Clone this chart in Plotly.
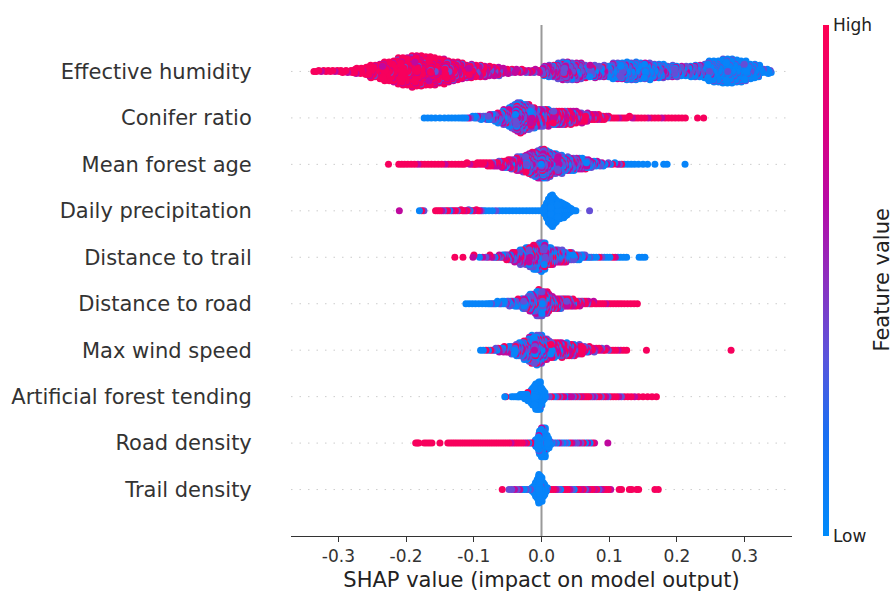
import numpy as np
import plotly.graph_objects as go

# ---------------- data ----------------
# features from top to bottom
features = ["Effective humidity", "Conifer ratio", "Mean forest age", "Daily precipitation",
            "Distance to trail", "Distance to road", "Max wind speed",
            "Artificial forest tending", "Road density", "Trail density"]

# feature-value level of each colour class: low (blue), low-mid (violet), high-mid (magenta), high (red)
FEATURE_LEVELS = [0.05, 0.38, 0.68, 0.95]

# each entry: (shap_from, shap_to, n_low, n_lowmid, n_highmid, n_high)
effective_humidity = [
    (-0.338, -0.32, 0, 0, 1, 4), (-0.32, -0.30, 0, 0, 1, 5), (-0.30, -0.28, 0, 0, 1, 7),
    (-0.28, -0.26, 0, 0, 2, 16), (-0.26, -0.24, 0, 1, 4, 33), (-0.24, -0.22, 0, 1, 6, 49),
    (-0.22, -0.20, 0, 2, 8, 68), (-0.20, -0.18, 0, 4, 18, 68), (-0.18, -0.16, 0, 4, 17, 63),
    (-0.16, -0.14, 0, 4, 16, 52), (-0.14, -0.12, 0, 8, 19, 27), (-0.12, -0.10, 0, 6, 14, 20),
    (-0.10, -0.08, 0, 5, 12, 17), (-0.08, -0.06, 0, 5, 13, 8), (-0.06, -0.04, 0, 3, 7, 4),
    (-0.04, -0.02, 0, 2, 5, 3), (-0.02, 0.00, 0, 2, 6, 2), (0.00, 0.02, 3, 16, 13, 4),
    (0.02, 0.04, 5, 24, 18, 5), (0.04, 0.06, 8, 24, 15, 3), (0.06, 0.08, 10, 16, 8, 2),
    (0.08, 0.10, 12, 15, 6, 1), (0.10, 0.12, 25, 17, 6, 0), (0.12, 0.14, 29, 18, 5, 0),
    (0.14, 0.16, 27, 17, 4, 0), (0.16, 0.18, 24, 14, 4, 0), (0.18, 0.20, 14, 14, 6, 0),
    (0.20, 0.22, 12, 13, 5, 0), (0.22, 0.24, 16, 15, 5, 0), (0.24, 0.26, 45, 14, 1, 0),
    (0.26, 0.28, 58, 14, 0, 0), (0.28, 0.30, 52, 12, 0, 0), (0.30, 0.32, 36, 8, 0, 0),
    (0.32, 0.34, 12, 2, 0, 0),
]

conifer_ratio = [
    (-0.176, -0.16, 3, 0, 0, 0), (-0.16, -0.14, 3, 0, 0, 0), (-0.14, -0.12, 4, 0, 0, 0),
    (-0.12, -0.10, 4, 1, 1, 0), (-0.10, -0.08, 6, 4, 2, 0), (-0.08, -0.07, 4, 4, 2, 0),
    (-0.07, -0.06, 5, 6, 4, 1), (-0.06, -0.05, 6, 8, 6, 2), (-0.05, -0.04, 9, 13, 10, 3),
    (-0.04, -0.03, 11, 17, 13, 4), (-0.03, -0.02, 9, 15, 12, 4), (-0.02, -0.01, 7, 11, 10, 4),
    (-0.01, 0.00, 5, 8, 8, 5), (0.00, 0.01, 3, 7, 9, 7), (0.01, 0.02, 2, 6, 8, 6),
    (0.02, 0.03, 1, 5, 8, 8), (0.03, 0.04, 1, 4, 7, 9), (0.04, 0.05, 1, 3, 7, 9),
    (0.05, 0.06, 0, 3, 5, 8), (0.06, 0.07, 0, 2, 4, 7), (0.07, 0.08, 0, 1, 3, 6),
    (0.08, 0.09, 0, 1, 2, 5), (0.09, 0.10, 0, 1, 1, 4), (0.10, 0.12, 0, 0, 1, 4),
    (0.12, 0.14, 0, 0, 1, 4), (0.14, 0.16, 0, 0, 1, 3), (0.16, 0.18, 0, 0, 1, 3),
    (0.18, 0.20, 0, 0, 0, 4), (0.20, 0.215, 0, 0, 0, 3), (0.226, 0.244, 0, 0, 0, 2),
]

mean_forest_age = [
    (-0.226, -0.226, 0, 0, 0, 1), (-0.213, -0.20, 0, 0, 0, 3), (-0.20, -0.18, 0, 0, 1, 3),
    (-0.18, -0.16, 0, 0, 0, 4), (-0.16, -0.14, 0, 0, 1, 3), (-0.14, -0.12, 0, 0, 0, 4),
    (-0.12, -0.10, 0, 0, 1, 4), (-0.10, -0.08, 0, 0, 2, 7), (-0.08, -0.07, 0, 1, 2, 4),
    (-0.07, -0.06, 0, 1, 3, 5), (-0.06, -0.05, 1, 2, 4, 5), (-0.05, -0.04, 1, 3, 6, 6),
    (-0.04, -0.03, 3, 6, 8, 5), (-0.03, -0.02, 5, 9, 10, 4), (-0.02, -0.01, 7, 13, 12, 4),
    (-0.01, 0.00, 9, 17, 15, 4), (0.00, 0.01, 10, 17, 14, 4), (0.01, 0.02, 8, 12, 10, 3),
    (0.02, 0.03, 7, 10, 9, 2), (0.03, 0.04, 6, 8, 7, 1), (0.04, 0.05, 5, 8, 6, 1),
    (0.05, 0.06, 5, 7, 6, 1), (0.06, 0.07, 5, 5, 4, 1), (0.07, 0.08, 4, 3, 3, 0),
    (0.08, 0.09, 3, 2, 2, 0), (0.09, 0.10, 2, 1, 1, 0), (0.10, 0.12, 2, 1, 1, 2),
    (0.12, 0.14, 4, 0, 0, 0), (0.14, 0.16, 3, 0, 0, 0), (0.165, 0.17, 1, 0, 0, 0),
    (0.178, 0.188, 2, 0, 0, 0), (0.212, 0.212, 1, 0, 0, 0),
]

daily_precipitation = [
    (-0.21, -0.21, 0, 0, 1, 0), (-0.182, -0.172, 1, 1, 0, 1), (-0.158, -0.14, 0, 1, 1, 4),
    (-0.14, -0.12, 1, 1, 1, 4), (-0.12, -0.10, 1, 1, 2, 5), (-0.10, -0.085, 1, 1, 1, 3),
    (-0.085, -0.06, 4, 1, 0, 0), (-0.06, -0.04, 4, 0, 0, 0), (-0.04, -0.02, 4, 0, 0, 0),
    (-0.02, 0.003, 5, 0, 0, 0), (0.003, 0.007, 17, 0, 0, 0), (0.007, 0.012, 45, 0, 0, 0),
    (0.012, 0.017, 60, 0, 0, 0), (0.017, 0.022, 41, 0, 0, 0), (0.022, 0.027, 33, 0, 0, 0),
    (0.027, 0.033, 33, 0, 0, 0), (0.033, 0.038, 21, 0, 0, 0), (0.038, 0.043, 10, 0, 0, 0),
    (0.043, 0.052, 4, 0, 0, 0), (0.071, 0.071, 0, 1, 0, 0),
]

distance_to_trail = [
    (-0.128, -0.128, 0, 0, 0, 1), (-0.116, -0.116, 0, 0, 0, 1), (-0.102, -0.099, 0, 0, 1, 1),
    (-0.094, -0.08, 1, 1, 1, 0), (-0.08, -0.065, 1, 1, 2, 2), (-0.065, -0.055, 1, 2, 2, 1),
    (-0.055, -0.045, 2, 3, 3, 2), (-0.045, -0.035, 3, 5, 5, 3), (-0.035, -0.025, 5, 7, 6, 4),
    (-0.025, -0.015, 8, 10, 7, 5), (-0.015, -0.005, 11, 13, 8, 7), (-0.005, 0.005, 14, 15, 9, 7),
    (0.005, 0.015, 9, 9, 5, 5), (0.015, 0.025, 8, 7, 4, 3), (0.025, 0.035, 7, 6, 3, 3),
    (0.035, 0.045, 5, 4, 2, 2), (0.045, 0.055, 5, 3, 1, 1), (0.055, 0.065, 4, 2, 1, 0),
    (0.065, 0.075, 3, 1, 0, 0), (0.075, 0.095, 3, 1, 0, 1), (0.095, 0.115, 3, 0, 1, 1),
    (0.115, 0.128, 3, 0, 0, 0), (0.142, 0.155, 3, 0, 0, 0),
]

distance_to_road = [
    (-0.114, -0.10, 3, 0, 0, 0), (-0.10, -0.08, 4, 0, 0, 0), (-0.08, -0.07, 3, 1, 0, 0),
    (-0.07, -0.06, 4, 1, 0, 0), (-0.06, -0.05, 4, 2, 1, 0), (-0.05, -0.04, 5, 3, 1, 0),
    (-0.04, -0.03, 6, 5, 2, 1), (-0.03, -0.02, 7, 7, 4, 2), (-0.02, -0.01, 9, 11, 6, 4),
    (-0.01, 0.00, 12, 15, 10, 8), (0.00, 0.01, 9, 12, 10, 7), (0.01, 0.02, 4, 6, 6, 6),
    (0.02, 0.03, 2, 5, 6, 6), (0.03, 0.04, 1, 4, 5, 6), (0.04, 0.05, 1, 3, 4, 5),
    (0.05, 0.06, 0, 2, 3, 5), (0.06, 0.07, 0, 1, 2, 4), (0.07, 0.08, 0, 0, 1, 4),
    (0.08, 0.10, 0, 0, 1, 5), (0.10, 0.12, 0, 0, 0, 5), (0.12, 0.144, 0, 0, 0, 5),
]

max_wind_speed = [
    (-0.092, -0.08, 2, 0, 0, 1), (-0.08, -0.07, 1, 1, 0, 1), (-0.07, -0.06, 2, 2, 1, 1),
    (-0.06, -0.05, 3, 3, 2, 1), (-0.05, -0.04, 4, 4, 3, 2), (-0.04, -0.03, 7, 7, 3, 3),
    (-0.03, -0.02, 11, 10, 5, 4), (-0.02, -0.01, 15, 15, 6, 6), (-0.01, 0.00, 16, 16, 7, 6),
    (0.00, 0.01, 9, 10, 6, 7), (0.01, 0.02, 5, 6, 6, 7), (0.02, 0.03, 4, 5, 6, 7),
    (0.03, 0.04, 3, 5, 5, 8), (0.04, 0.05, 2, 4, 5, 7), (0.05, 0.06, 1, 3, 4, 6),
    (0.06, 0.07, 1, 2, 3, 4), (0.07, 0.08, 0, 1, 2, 4), (0.08, 0.09, 0, 1, 1, 3),
    (0.09, 0.10, 0, 1, 1, 2), (0.10, 0.115, 0, 0, 1, 3), (0.115, 0.128, 0, 0, 0, 3),
    (0.155, 0.155, 0, 0, 0, 1), (0.28, 0.28, 0, 0, 0, 1),
]

artificial_forest_tending = [
    (-0.055, -0.052, 1, 0, 0, 1), (-0.046, -0.036, 3, 0, 0, 0), (-0.036, -0.028, 6, 0, 0, 0),
    (-0.028, -0.022, 8, 0, 0, 0), (-0.022, -0.016, 12, 0, 0, 1), (-0.016, -0.011, 20, 0, 0, 0),
    (-0.011, -0.006, 30, 0, 0, 0), (-0.006, -0.002, 24, 1, 0, 0), (-0.002, 0.002, 16, 0, 0, 0),
    (0.002, 0.006, 6, 0, 0, 0), (0.006, 0.02, 1, 2, 0, 1), (0.02, 0.04, 1, 2, 2, 2),
    (0.04, 0.06, 0, 2, 2, 3), (0.06, 0.08, 0, 2, 1, 4), (0.08, 0.10, 0, 2, 1, 3),
    (0.10, 0.12, 0, 1, 1, 3), (0.12, 0.14, 0, 0, 1, 3), (0.14, 0.16, 0, 0, 0, 3),
    (0.16, 0.173, 0, 0, 0, 2),
]

road_density = [
    (-0.187, -0.18, 0, 0, 0, 3), (-0.175, -0.16, 0, 0, 0, 4), (-0.15, -0.15, 0, 0, 0, 1),
    (-0.14, -0.12, 0, 0, 0, 6), (-0.12, -0.10, 0, 0, 0, 6), (-0.10, -0.08, 0, 0, 0, 6),
    (-0.08, -0.06, 0, 0, 0, 6), (-0.06, -0.04, 0, 0, 1, 5), (-0.04, -0.02, 0, 0, 1, 5),
    (-0.02, -0.01, 1, 1, 1, 1), (-0.010, -0.006, 9, 0, 0, 0), (-0.006, -0.002, 20, 1, 1, 0),
    (-0.002, 0.002, 28, 1, 1, 0), (0.002, 0.006, 26, 1, 1, 0), (0.006, 0.010, 12, 1, 0, 0),
    (0.010, 0.014, 4, 1, 0, 0), (0.014, 0.03, 2, 2, 1, 0), (0.03, 0.05, 2, 2, 1, 1),
    (0.05, 0.07, 1, 2, 2, 1), (0.07, 0.08, 1, 0, 1, 1), (0.098, 0.098, 0, 0, 1, 0),
]

trail_density = [
    (-0.058, -0.058, 0, 0, 0, 1), (-0.05, -0.03, 0, 3, 2, 0), (-0.03, -0.015, 3, 2, 0, 0),
    (-0.015, -0.011, 7, 0, 0, 0), (-0.011, -0.007, 16, 0, 0, 0), (-0.007, -0.003, 29, 1, 0, 0),
    (-0.003, 0.001, 25, 1, 0, 0), (0.001, 0.005, 15, 0, 0, 0), (0.005, 0.009, 4, 1, 0, 0),
    (0.009, 0.03, 1, 1, 1, 3), (0.03, 0.05, 1, 1, 1, 3), (0.05, 0.07, 0, 1, 2, 3),
    (0.07, 0.09, 0, 1, 2, 3), (0.09, 0.104, 0, 0, 1, 3), (0.113, 0.12, 0, 0, 0, 2),
    (0.128, 0.135, 0, 0, 0, 2), (0.139, 0.145, 0, 0, 0, 2), (0.165, 0.175, 0, 0, 0, 2),
]

rows = [effective_humidity, conifer_ratio, mean_forest_age, daily_precipitation,
        distance_to_trail, distance_to_road, max_wind_speed, artificial_forest_tending,
        road_density, trail_density]

x_ticks = [-0.3, -0.2, -0.1, 0.0, 0.1, 0.2, 0.3]
x_tick_labels = ["-0.3", "-0.2", "-0.1", "0.0", "0.1", "0.2", "0.3"]


# ---------------- helpers ----------------
def expand(segs):
    """Place each segment's points evenly across it; mix the colour classes."""
    xs, cs = [], []
    for x0, x1, *counts in segs:
        n = sum(counts)
        order = []
        for ci, m in enumerate(counts):
            for j in range(m):
                order.append(((j + 0.5) / m, ci))
        order.sort()
        classes = [ci for _, ci in order]
        perm = [(k * 7919) % n for k in range(n)] if n > 1 else [0]
        for k in range(n):
            xs.append(x0 + (k + 0.5) * (x1 - x0) / n)
            cs.append(FEATURE_LEVELS[classes[perm[k]]])
    return np.array(xs), np.array(cs)


def swarm(shaps, nbins=100, row_height=0.4):
    n = len(shaps)
    quant = np.round(nbins * (shaps - shaps.min()) / (shaps.max() - shaps.min() + 1e-8))
    inds = np.argsort(quant, kind="stable")
    layer, last = 0, -1
    ys = np.zeros(n)
    for ind in inds:
        if quant[ind] != last:
            layer = 0
        ys[ind] = np.ceil(layer / 2) * ((layer % 2) * 2 - 1)
        layer += 1
        last = quant[ind]
    ys *= 0.9 * (row_height / np.max(ys + 1))
    return ys


nrows = len(features)
all_x, all_y, all_c = [], [], []
for i, segs in enumerate(rows):
    pos = nrows - 1 - i
    xs, cs = expand(segs)
    ys = swarm(xs)
    all_x.append(xs)
    all_y.append(pos + ys)
    all_c.append(cs)
all_x = np.concatenate(all_x)
all_y = np.concatenate(all_y)
all_c = np.concatenate(all_c)

# drawing order only: interleave the points (stride permutation) so that no
# column of the swarm systematically covers its neighbour
N = len(all_x)
stride = 7919 if np.gcd(N, 7919) == 1 else 7907
draw = (np.arange(N) * stride) % N
all_x, all_y, all_c = all_x[draw], all_y[draw], all_c[draw]

colorscale = [
    [0.0, "#008bfb"], [0.2, "#1a6ff2"], [0.35, "#5a55dc"], [0.5, "#8c30c0"],
    [0.65, "#b70aa6"], [0.8, "#dd007f"], [1.0, "#ff0052"],
]

FONT = "DejaVu Sans"
L, R, T, B = 291, 101, 25, 56
PW = 893 - L - R

fig = go.Figure()
fig.add_trace(go.Scatter(
    x=all_x, y=all_y, mode="markers", hoverinfo="skip", showlegend=False,
    marker=dict(size=7, color=all_c, colorscale=colorscale, cmin=0, cmax=1,
                line=dict(width=0), opacity=1,
                showscale=True,
                colorbar=dict(
                    x=(823 - L) / PW, xanchor="left", y=0.5, yanchor="middle",
                    len=1, lenmode="fraction", ypad=0, xpad=0,
                    thickness=6, outlinewidth=0,
                    tickvals=[0, 1], ticktext=["Low", "High"], ticks="",
                    tickfont=dict(family=FONT, size=17, color="#222"),
                ))
))

shapes = [dict(type="line", xref="x", yref="paper", x0=0, x1=0, y0=0, y1=1,
               line=dict(color="#999999", width=2), layer="below")]
for i in range(nrows):
    shapes.append(dict(type="line", xref="paper", yref="y", x0=0, x1=1, y0=i, y1=i,
                       line=dict(color="#cccccc", width=1, dash="1.5px,7px"), layer="below"))

fig.add_annotation(text="Feature value", xref="paper", yref="paper",
                   x=(881 - L) / PW, y=0.5, xanchor="center", yanchor="middle",
                   textangle=-90, showarrow=False,
                   font=dict(family=FONT, size=21, color="#222"))

fig.update_layout(
    width=893, height=592,
    margin=dict(l=L, r=R, t=T, b=B, autoexpand=False),
    paper_bgcolor="white", plot_bgcolor="white",
    font=dict(family=FONT, color="#333"),
    shapes=shapes,
    xaxis=dict(range=[-0.37, 0.37], tickvals=x_ticks, ticktext=x_tick_labels,
               ticks="outside", ticklen=5, tickwidth=1, tickcolor="#333",
               showline=True, linecolor="#333", linewidth=1,
               showgrid=False, zeroline=False, automargin=False,
               tickfont=dict(family=FONT, size=17, color="#333"),
               title=dict(text="SHAP value (impact on model output)", standoff=6,
                          font=dict(family=FONT, size=21, color="#222"))),
    yaxis=dict(range=[-1, 10], tickvals=list(range(nrows)), ticktext=features[::-1],
               showgrid=False, zeroline=False, showline=False, automargin=False,
               ticks="outside", ticklen=34, tickcolor="rgba(0,0,0,0)",
               tickfont=dict(family=FONT, size=21, color="#333")),
)

fig.write_html("out.html")
